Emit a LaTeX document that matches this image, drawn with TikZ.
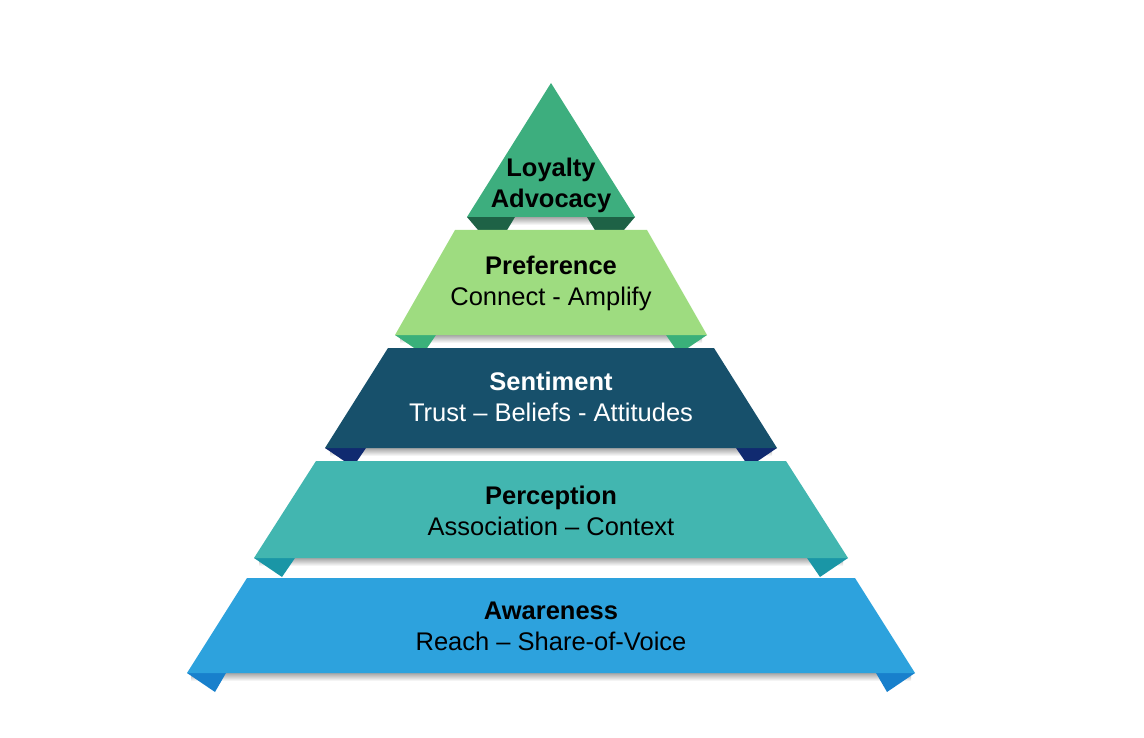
\documentclass[tikz,border=0pt]{standalone}
\usepackage{fontspec}
\setmainfont{Liberation Sans}
\usepackage{xcolor}
\definecolor{loyalgreen}{RGB}{61,174,126}
\definecolor{loyalfold}{RGB}{30,98,70}
\definecolor{prefgreen}{RGB}{158,220,128}
\definecolor{preffold}{RGB}{58,176,122}
\definecolor{sentblue}{RGB}{23,80,107}
\definecolor{sentfold}{RGB}{16,42,112}
\definecolor{perc}{RGB}{66,182,176}
\definecolor{percfold}{RGB}{26,150,166}
\definecolor{aware}{RGB}{45,162,221}
\definecolor{awarefold}{RGB}{24,128,204}
\usetikzlibrary{positioning}

\begin{document}
\begin{tikzpicture}[
  x=1pt, y=-1pt,
  node distance=6pt,
  title/.style={font=\fontsize{25.5}{31}\selectfont\bfseries, inner sep=0pt,
                text height=19pt, text depth=6pt},
  sub/.style={font=\fontsize{25.5}{31}\selectfont, inner sep=0pt,
              text height=19pt, text depth=6pt},
  drop/.style={top color=black!35, bottom color=white, draw=none}
]
  \useasboundingbox (0,0) rectangle (1144,738);

  % top: loyalty / advocacy
  \shade[drop] (475,217) rectangle (627,225);
  \fill[loyalfold] (467,217) -- (515,217) -- (495,250) -- cycle;
  \fill[loyalfold] (635,217) -- (587,217) -- (607,250) -- cycle;
  \fill[loyalgreen] (551,83) -- (635,217) -- (467,217) -- cycle;

  % preference
  \shade[drop] (400,335) rectangle (702,343);
  \fill[preffold] (395,335) -- (436,335) -- (423,354) -- cycle;
  \fill[preffold] (707,335) -- (666,335) -- (679,354) -- cycle;
  \fill[prefgreen] (455,230) -- (647,230) -- (707,335) -- (395,335) -- cycle;

  % sentiment
  \shade[drop] (330,448) rectangle (772,456);
  \fill[sentfold] (325,448) -- (366,448) -- (353,467) -- cycle;
  \fill[sentfold] (777,448) -- (736,448) -- (749,467) -- cycle;
  \fill[sentblue] (388,348) -- (714,348) -- (777,448) -- (325,448) -- cycle;

  % perception
  \shade[drop] (259,558) rectangle (843,566);
  \fill[percfold] (254,558) -- (295,558) -- (282,577) -- cycle;
  \fill[percfold] (848,558) -- (807,558) -- (820,577) -- cycle;
  \fill[perc] (316,461) -- (786,461) -- (848,558) -- (254,558) -- cycle;

  % awareness
  \shade[drop] (191,673) rectangle (911,681);
  \fill[awarefold] (187,673) -- (226,673) -- (215,692) -- cycle;
  \fill[awarefold] (915,673) -- (876,673) -- (887,692) -- cycle;
  \fill[aware] (247,578) -- (855,578) -- (915,673) -- (187,673) -- cycle;

  % labels
  \node[title] (loyalty) at (551,170) {Loyalty};
  \node[title, below=of loyalty] (advocacy) {Advocacy};
  \node[title] (pref) at (551,268) {Preference};
  \node[sub, below=of pref] (prefsub) {Connect - Amplify};
  \node[title, white] (sent) at (551,384) {Sentiment};
  \node[sub, white, below=of sent] (sentsub) {Trust – Beliefs - Attitudes};
  \node[title] (percept) at (551,498) {Perception};
  \node[sub, below=of percept] (perceptsub) {Association – Context};
  \node[title] (aware) at (551,613) {Awareness};
  \node[sub, below=of aware] (awaresub) {Reach – Share-of-Voice};
\end{tikzpicture}
\end{document}
